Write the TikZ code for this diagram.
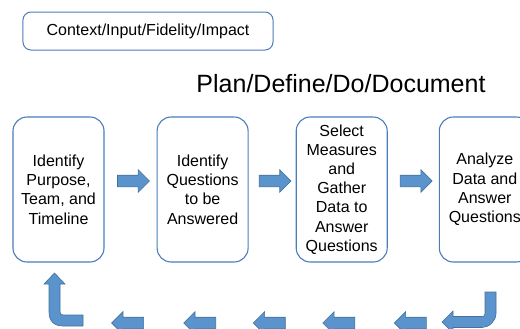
\documentclass[tikz,border=0pt]{standalone}
\usepackage{fontspec}
\setmainfont{Liberation Sans}
\usetikzlibrary{positioning,shapes.arrows,calc}
\definecolor{boxline}{HTML}{4A7EBB}
\definecolor{arrowfill}{HTML}{5B93CD}
\definecolor{arrowline}{HTML}{41719C}
\tikzset{
    stage-box/.style = {draw=boxline, fill=white, line width=1.1bp, rectangle, rounded corners=14bp, minimum width=91bp, minimum height=145bp, inner sep=2bp, align=center, font=\fontsize{16bp}{19.2bp}\selectfont},
    label-box/.style = {draw=boxline, line width=1bp, rectangle, rounded corners=8bp, minimum width=250bp, minimum height=38bp, font=\fontsize{16bp}{19.2bp}\selectfont},
    title-text/.style = {font=\fontsize{25bp}{30bp}\selectfont, inner sep=0pt},
    right-arrow/.style = {single arrow, draw=arrowline, fill=arrowfill, line width=0.6bp, minimum height=32bp, single arrow head extend=5.5bp, single arrow tip angle=90, inner xsep=0pt, inner ysep=5.5bp},
    left-arrow/.style = {right-arrow, shape border rotate=180},
    bent-arrow/.style = {draw=arrowline, fill=arrowfill, line width=0.6bp},
}

\begin{document}
\begin{tikzpicture}[x=1bp, y=-1bp]
\path[use as bounding box, clip] (0,0) rectangle (520,328);

\node[label-box] (context) at (148,31) {Context/Input/Fidelity/Impact};
\node[title-text, anchor=base] (title) at (341,92) {Plan/Define/Do/Document};

% the four stages
\node[stage-box] (b1) at (58.5,189.5) {Identify\\Purpose,\\Team, and\\Timeline};
\node[stage-box, right=52bp of b1] (b2) {Identify\\Questions\\to be\\Answered};
\node[stage-box, right=47bp of b2] (b3) {Select\\Measures\\and\\Gather\\Data to\\Answer\\Questions};
\node[stage-box, right=51bp of b3] (b4) {Analyze\\Data and\\Answer\\Questions};

% forward arrows
\node[right-arrow, yshift=8.5bp] (a12) at ($(b1.east)!0.5!(b2.west)$) {};
\node[right-arrow, yshift=8.5bp] (a23) at ($(b2.east)!0.5!(b3.west)$) {};
\node[right-arrow, yshift=8.5bp] (a34) at ($(b3.east)!0.5!(b4.west)$) {};

% way back
\coordinate (bot) at (0,323);
\node[left-arrow] (c4) at (a34 |- bot) {};
\node[left-arrow] (c3) at (b3 |- bot) {};
\node[left-arrow] (c2) at (a23 |- bot) {};
\node[left-arrow] (c1) at (b2 |- bot) {};
\node[left-arrow] (c0) at (a12 |- bot) {};

\draw[bent-arrow] (496,292) -- (496,313.5) .. controls (496,321) and (489,327.5) .. (482,327.5)
    -- (453,327.5) -- (453,333) -- (442,322) -- (453,311) -- (453,316.5) -- (482,316.5)
    .. controls (484,316.5) and (485,315.5) .. (485,313.5) -- (485,292) -- cycle;
\draw[bent-arrow] (54.5,273) -- (65,284) -- (60,284) -- (60,312)
    .. controls (60,313.7) and (61.3,315) .. (63,315) -- (83,315) -- (83,326) -- (63,326)
    .. controls (54,326) and (49,321) .. (49,312) -- (49,284) -- (44,284) -- cycle;
\end{tikzpicture}
\end{document}
